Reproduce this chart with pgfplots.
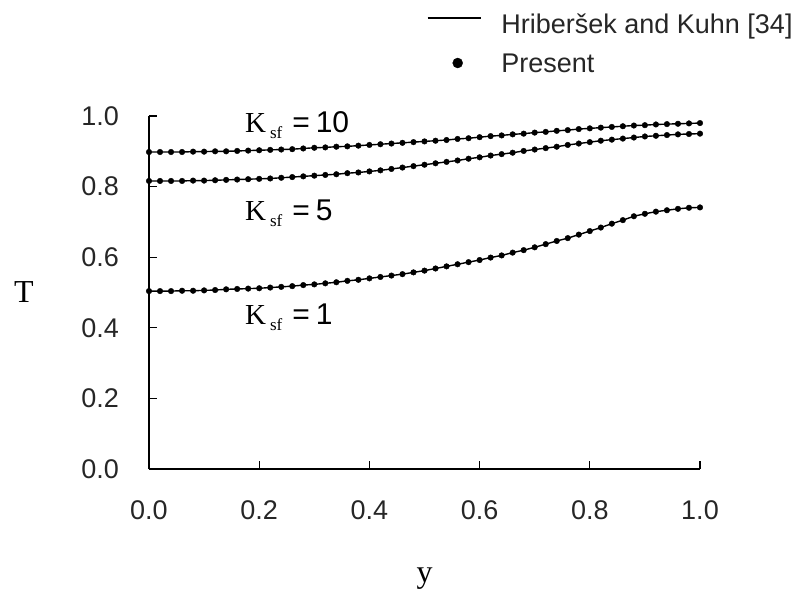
\documentclass[border=0pt]{standalone}
\usepackage{fontspec}
\setmainfont{Liberation Sans}
\newfontfamily\serif{Liberation Serif}
\usepackage{pgfplots}
\pgfplotsset{compat=1.18}
\usepackage{pgfplotstable}

% Temperature profiles T(y) for three conductivity ratios K_sf
\pgfplotstableread{
x    k10   k5    k1
0.00 0.898 0.816 0.504
0.02 0.898 0.816 0.504
0.04 0.898 0.816 0.504
0.06 0.898 0.816 0.505
0.08 0.899 0.817 0.505
0.10 0.899 0.817 0.506
0.12 0.900 0.818 0.507
0.14 0.900 0.819 0.509
0.16 0.901 0.820 0.510
0.18 0.902 0.821 0.511
0.20 0.903 0.822 0.512
0.22 0.904 0.823 0.514
0.24 0.905 0.825 0.516
0.26 0.906 0.827 0.518
0.28 0.908 0.829 0.521
0.30 0.910 0.831 0.523
0.32 0.911 0.833 0.526
0.34 0.913 0.835 0.529
0.36 0.914 0.838 0.533
0.38 0.916 0.840 0.536
0.40 0.918 0.843 0.540
0.42 0.920 0.846 0.544
0.44 0.922 0.850 0.548
0.46 0.924 0.854 0.552
0.48 0.926 0.858 0.557
0.50 0.928 0.862 0.562
0.52 0.930 0.866 0.568
0.54 0.932 0.870 0.574
0.56 0.935 0.874 0.580
0.58 0.937 0.879 0.586
0.60 0.940 0.883 0.592
0.62 0.943 0.888 0.599
0.64 0.945 0.892 0.605
0.66 0.948 0.896 0.613
0.68 0.950 0.901 0.620
0.70 0.953 0.905 0.628
0.72 0.955 0.909 0.637
0.74 0.958 0.913 0.646
0.76 0.960 0.918 0.654
0.78 0.963 0.922 0.664
0.80 0.965 0.926 0.674
0.82 0.967 0.930 0.684
0.84 0.969 0.933 0.695
0.86 0.971 0.936 0.705
0.88 0.973 0.939 0.716
0.90 0.974 0.942 0.723
0.92 0.976 0.944 0.729
0.94 0.977 0.946 0.733
0.96 0.978 0.948 0.737
0.98 0.979 0.949 0.740
1.00 0.980 0.950 0.741
}\profiles

\pgfplotsset{
  lineleg/.style={legend image code/.code={\draw[##1, yshift=8bp] (0bp,0bp) -- (53bp,0bp);}},
  dotleg/.style={legend image code/.code={\draw[mark repeat=2, mark phase=2, ##1, mark size=5bp, yshift=2bp] plot coordinates {(0bp,0bp) (30bp,0bp) (53bp,0bp)};}},
}

\newcommand{\Ksf}[1]{{\serif\fontsize{29bp}{29bp}\selectfont K\hspace{4bp}\raisebox{-6bp}{\fontsize{17bp}{17bp}\selectfont sf}}\hspace{10bp}{\fontsize{30bp}{30bp}\selectfont =\hspace{6bp}#1}}

\begin{document}
\begin{tikzpicture}
\begin{axis}[
  scale only axis, width=551bp, height=353bp,
  xmin=0, xmax=1, ymin=0, ymax=1,
  clip=false,
  axis lines=left,
  axis line style={-, line width=1.2bp, black},
  tick align=inside,
  major tick length=8bp,
  tick style={line width=1.2bp, black},
  xtick={0,0.2,0.4,0.6,0.8,1},
  xticklabels={0.0,0.2,0.4,0.6,0.8,1.0},
  ytick={0,0.2,0.4,0.6,0.8,1},
  yticklabels={0.0,0.2,0.4,0.6,0.8,1.0},
  ticklabel style={font=\fontsize{27bp}{27bp}\selectfont, inner sep=0pt, text=black!85},
  xticklabel style={anchor=north, yshift=-31bp},
  yticklabel style={anchor=east, xshift=-30bp},
  xlabel={y}, ylabel={T},
  label style={font=\serif\fontsize{32bp}{32bp}\selectfont},
  xlabel style={at={(axis description cs:0.5,0)}, anchor=base, yshift=-113bp},
  ylabel style={rotate=-90, at={(axis description cs:0,0.5)}, anchor=center, xshift=-125bp},
  legend cell align=left,
  legend style={draw=none, fill=none, inner sep=0pt, outer sep=0pt,
    at={(rel axis cs:0,1)}, anchor=north west, xshift=278bp, yshift=103bp,
    font=\fontsize{27bp}{27bp}\selectfont, text=black!85,
    row sep=13bp,
    nodes={inner sep=0pt, text height=20bp, text depth=6bp},
    /tikz/every odd column/.append style={column sep=20bp}},
]
% bounding frame of the whole figure
\path (rel axis cs:0,0) ++(-149bp,-122bp) rectangle ++(810bp,591bp);

\addplot[black, line width=1.4bp, lineleg] table[x=x, y=k10] {\profiles};
\addlegendentry{Hriberšek and Kuhn [34]}
\addplot[only marks, mark=*, mark size=2.8bp, black, dotleg] table[x=x, y=k10] {\profiles};
\addlegendentry{Present}

\addplot[black, line width=1.4bp, forget plot] table[x=x, y=k5] {\profiles};
\addplot[only marks, mark=*, mark size=2.8bp, black, forget plot] table[x=x, y=k5] {\profiles};
\addplot[black, line width=1.4bp, forget plot] table[x=x, y=k1] {\profiles};
\addplot[only marks, mark=*, mark size=2.8bp, black, forget plot] table[x=x, y=k1] {\profiles};

\node[anchor=base west, inner sep=0pt] at (axis cs:0.174,0.952) {\Ksf{10}};
\node[anchor=base west, inner sep=0pt] at (axis cs:0.174,0.705) {\Ksf{5}};
\node[anchor=base west, inner sep=0pt] at (axis cs:0.174,0.408) {\Ksf{1}};
\end{axis}
\end{tikzpicture}
\end{document}
